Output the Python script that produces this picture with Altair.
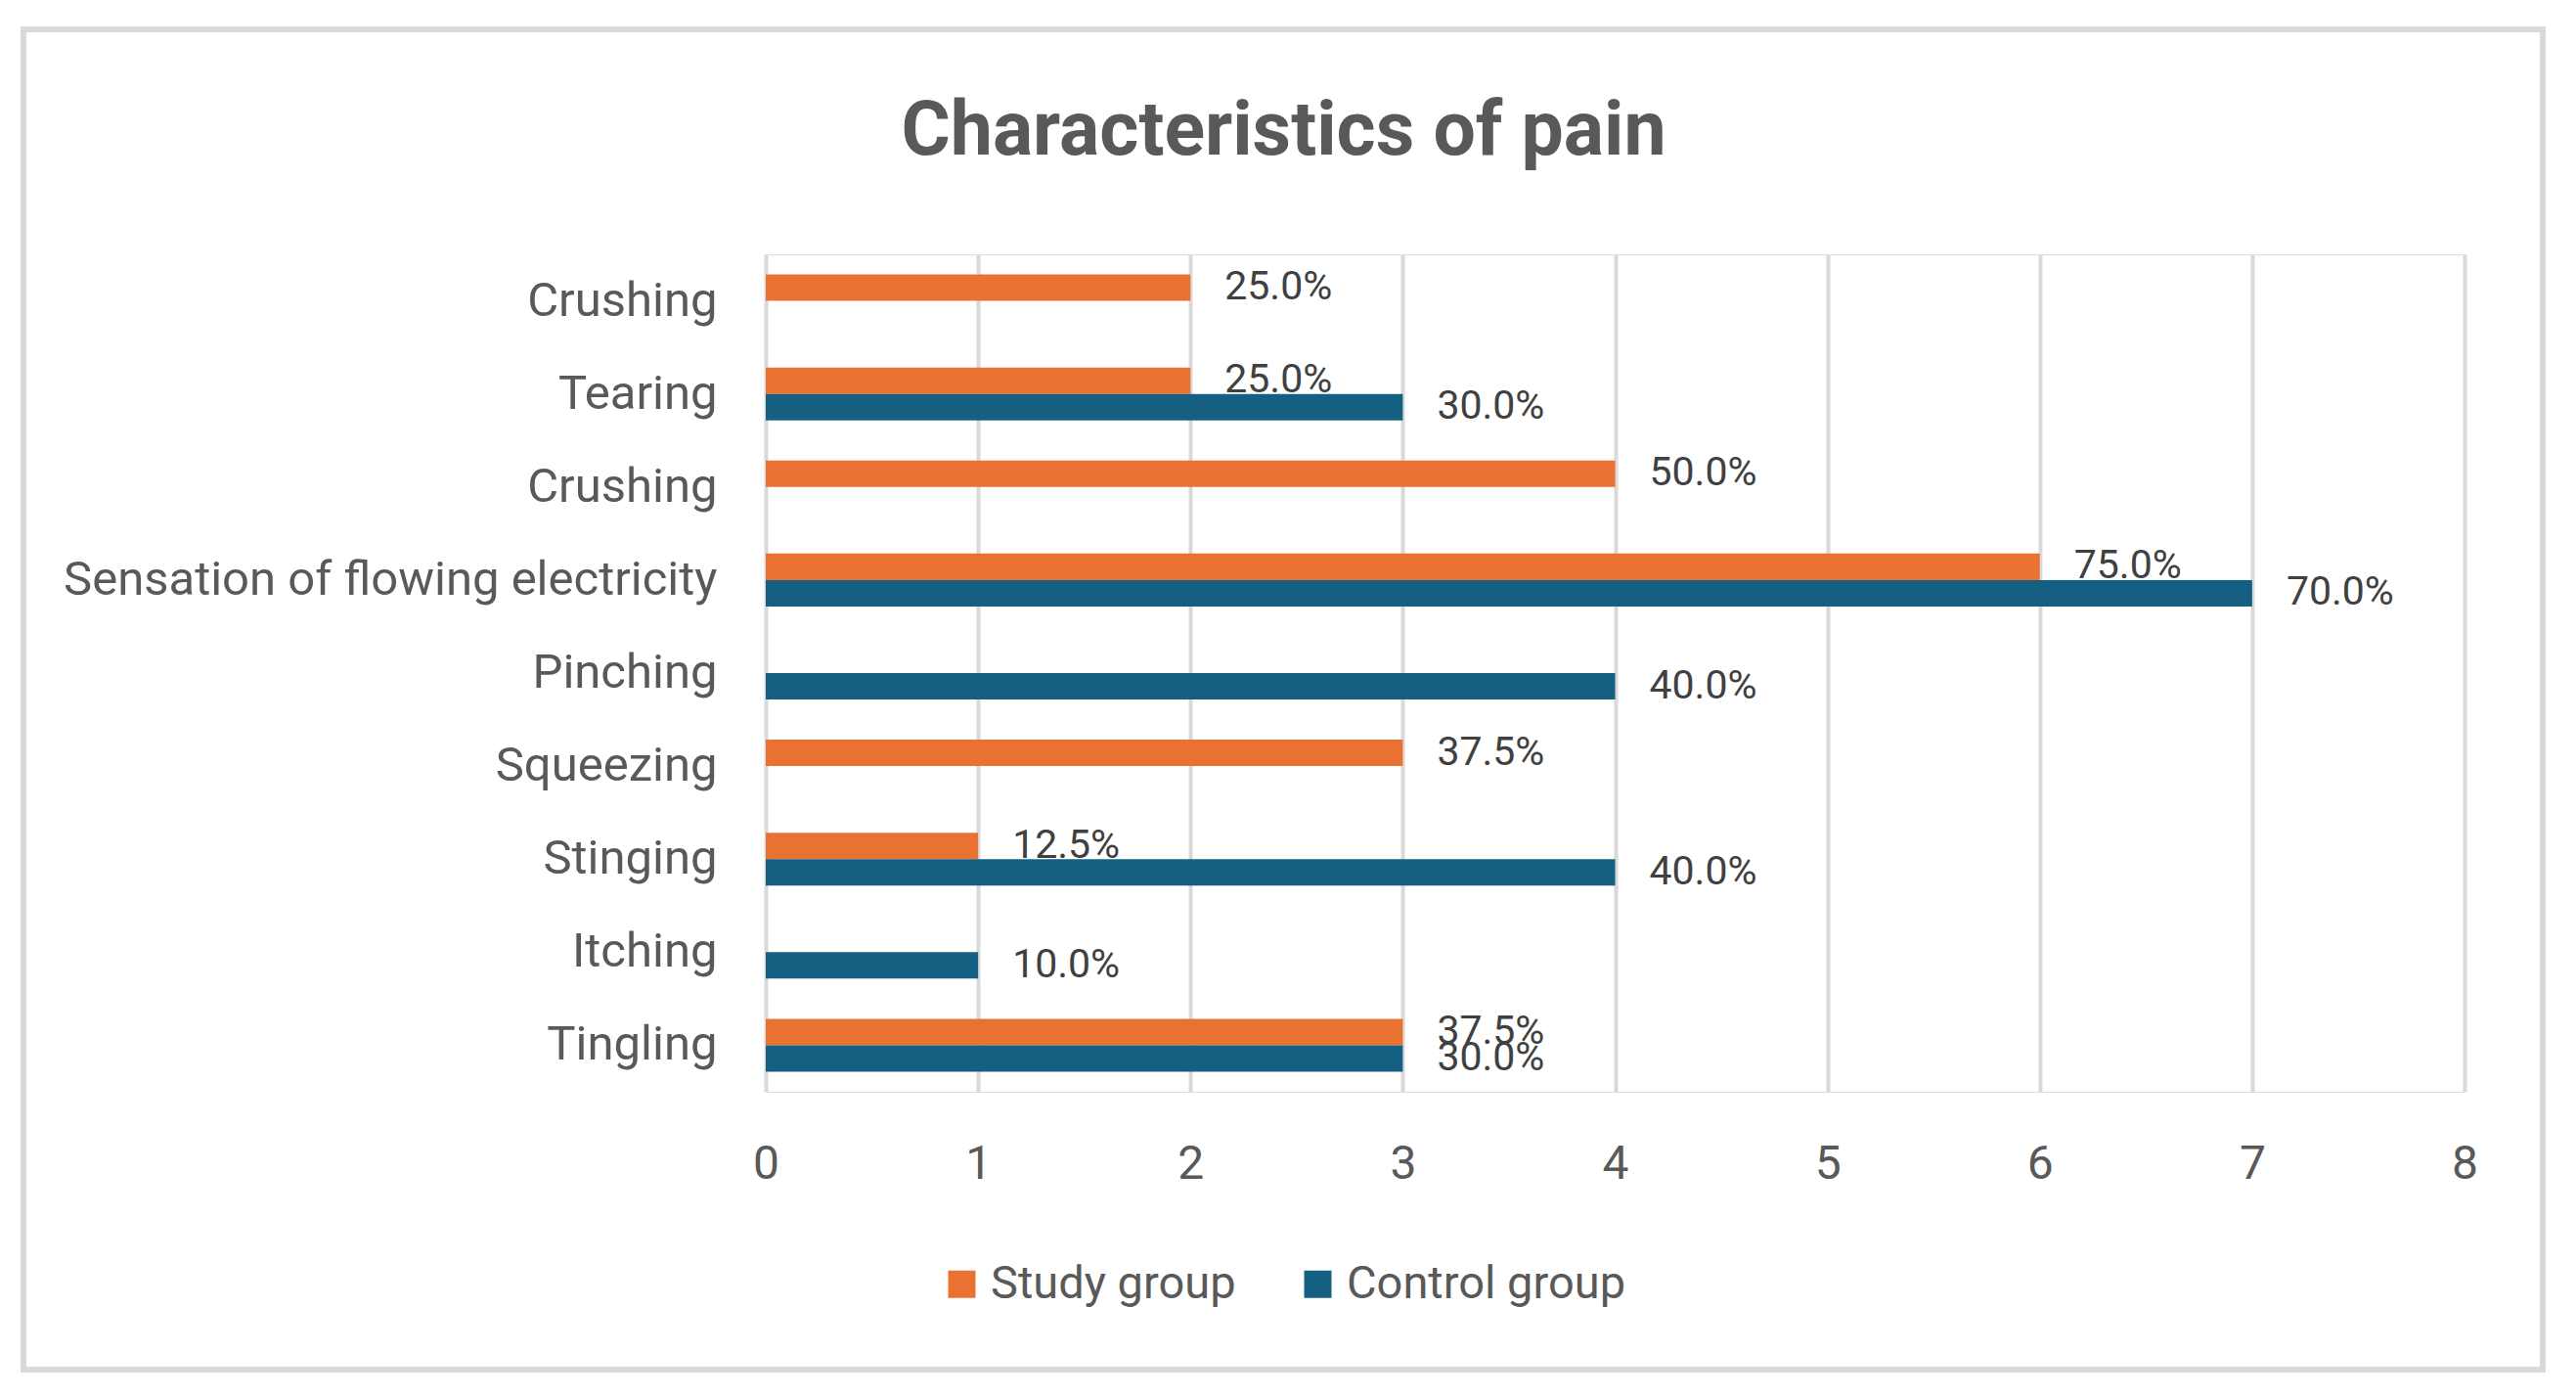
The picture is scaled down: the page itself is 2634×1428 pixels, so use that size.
import altair as alt
import pandas as pd

categories = ["Crushing", "Tearing", "Crushing", "Sensation of flowing electricity",
              "Pinching", "Squeezing", "Stinging", "Itching", "Tingling"]
groups = ["Study group", "Control group"]
colors = ["#E97132", "#156082"]
study_values = [2, 2, 4, 6, None, 3, 1, None, 3]
study_labels = ["25.0%", "25.0%", "50.0%", "75.0%", None, "37.5%", "12.5%", None, "37.5%"]
control_values = [None, 3, None, 7, 4, None, 4, 1, 3]
control_labels = [None, "30.0%", None, "70.0%", "40.0%", None, "40.0%", "10.0%", "30.0%"]
x_ticks = [0, 1, 2, 3, 4, 5, 6, 7, 8]
title_text = "Characteristics  of pain"

keys = [f"{i}|{c}" for i, c in enumerate(categories)]
rows = []
for g, vals, labs in [(groups[0], study_values, study_labels), (groups[1], control_values, control_labels)]:
    for k, v, l in zip(keys, vals, labs):
        if v is not None:
            rows.append({"key": k, "group": g, "value": v, "label": l})
df = pd.DataFrame(rows)

FONT = "Roboto"

y_enc = alt.Y("key:N", sort=keys, title=None,
              scale=alt.Scale(paddingInner=0, paddingOuter=0),
              axis=alt.Axis(labelExpr="split(datum.label, '|')[1]", domain=False, ticks=False,
                            labelFont=FONT, labelFontSize=49, labelColor="#595959",
                            labelPadding=50, labelLimit=1000))
yoff = alt.YOffset("group:N", sort=groups,
                   scale=alt.Scale(domain=groups, paddingInner=0, paddingOuter=0.76))
x_enc = alt.X("value:Q", title=None, scale=alt.Scale(domain=[0, 8], nice=False),
              axis=alt.Axis(values=x_ticks, grid=True, gridColor="#D9D9D9", gridWidth=4,
                            domain=False, ticks=False, labelFont=FONT, labelFontSize=48,
                            labelColor="#595959", labelPadding=50, format="d",
                            labelFlush=False))
color_enc = alt.Color("group:N", sort=groups,
                      scale=alt.Scale(domain=groups, range=colors),
                      legend=alt.Legend(orient="none", legendX=177, legendY=1029,
                                        direction="horizontal", title=None,
                                        symbolType="square", symbolSize=784,
                                        symbolStrokeWidth=0, labelFont=FONT,
                                        labelFontSize=47, labelColor="#595959",
                                        labelOffset=6, columnPadding=60, labelLimit=800))

base = alt.Chart(df)
bars = base.mark_bar(cornerRadius=0).encode(y=y_enc, yOffset=yoff, x=x_enc, color=color_enc)
texts = base.mark_text(align="left", baseline="middle", dx=35, font=FONT,
                       fontSize=41, color="#404040").encode(
    y=alt.Y("key:N", sort=keys), yOffset=yoff, x="value:Q", text="label:N")

border = alt.Chart(pd.DataFrame({"a": [0]})).mark_rect(
    fillOpacity=0, stroke="#D9D9D9", strokeWidth=6).encode(
    x=alt.value(-759), x2=alt.value(1817), y=alt.value(-230), y2=alt.value(1140))

chart = alt.layer(border, bars, texts).properties(
    width=1737, height=856,
    padding={"left": 775, "top": 252, "right": 106, "bottom": 300},
    autosize=alt.AutoSizeParams(type="none"),
    title=alt.TitleParams(title_text, anchor="middle", frame="group", dx=-339,
                          baseline="alphabetic", offset=0, dy=208, fontSize=77,
                          font=FONT, fontWeight="bold", color="#595959"),
).configure_view(strokeWidth=0).configure(background="white")

chart.save("out.html", embed_options={"renderer": "svg", "actions": False})
